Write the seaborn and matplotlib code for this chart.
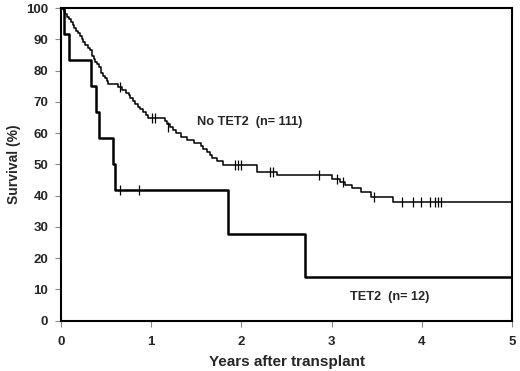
import matplotlib
matplotlib.use("Agg")
import matplotlib.pyplot as plt
import seaborn as sns
import pandas as pd

# No TET2 (n=111): step times (years) and survival (%) after each step
no_tet2_t = [0.00, 0.03, 0.05, 0.07, 0.09, 0.11, 0.13, 0.15, 0.17, 0.19, 0.21, 0.23,
             0.25, 0.27, 0.30, 0.32, 0.34, 0.35, 0.37, 0.38, 0.40, 0.42, 0.44, 0.45,
             0.47, 0.49, 0.51, 0.52, 0.63, 0.68, 0.72, 0.75, 0.77, 0.80, 0.82, 0.85,
             0.88, 0.91, 0.94, 0.97, 1.15, 1.18, 1.21, 1.24, 1.28, 1.33, 1.40, 1.47,
             1.55, 1.58, 1.62, 1.65, 1.68, 1.73, 1.80, 2.17, 2.40, 3.00, 3.09, 3.15,
             3.22, 3.33, 3.44, 3.68, 5.00]
no_tet2_s = [100, 99.1, 98.2, 97.3, 96.4, 95.5, 94.6, 93.7, 92.8, 91.9, 91.0, 90.1,
             89.2, 88.3, 87.4, 86.5, 85.6, 84.7, 83.8, 82.9, 82.0, 81.1, 80.2, 79.3,
             78.4, 77.5, 76.6, 75.7, 74.8, 73.9, 73.0, 72.1, 71.2, 70.3, 69.4, 68.5,
             67.6, 66.7, 65.8, 64.9, 63.9, 62.9, 61.9, 60.9, 59.9, 58.9, 57.9, 56.9,
             55.9, 55.0, 54.0, 53.0, 52.0, 51.0, 49.8, 47.6, 46.5, 45.4, 44.3, 43.4,
             42.4, 41.0, 39.7, 37.8, 37.8]
no_tet2_cens_t = [0.66, 1.01, 1.04, 1.19, 1.93, 1.96, 2.00, 2.32, 2.35, 2.86, 3.06,
                  3.13, 3.47, 3.78, 3.90, 3.99, 4.09, 4.14, 4.18, 4.21]
no_tet2_cens_s = [74.8, 64.9, 64.9, 61.9, 49.8, 49.8, 49.8, 47.6, 47.6, 46.5, 45.4,
                  44.3, 39.7, 37.8, 37.8, 37.8, 37.8, 37.8, 37.8, 37.8]

# TET2 (n=12)
tet2_t = [0.00, 0.04, 0.09, 0.33, 0.385, 0.42, 0.58, 0.60, 1.85, 2.70, 5.00]
tet2_s = [100, 91.7, 83.3, 75.0, 66.7, 58.3, 50.0, 41.7, 27.8, 13.9, 13.9]
tet2_cens_t = [0.65, 0.87]
tet2_cens_s = [41.7, 41.7]

sns.set_style("ticks")
plt.rcParams["font.family"] = ["Liberation Sans", "DejaVu Sans"]

fig = plt.figure(figsize=(5.2, 3.71), dpi=100)
ax = fig.add_axes([0.117, 0.136, 0.868, 0.842])

df = pd.concat([
    pd.DataFrame({"t": no_tet2_t, "s": no_tet2_s, "grp": "No TET2"}),
    pd.DataFrame({"t": tet2_t, "s": tet2_s, "grp": "TET2"}),
])
sns.lineplot(data=df[df.grp == "No TET2"], x="t", y="s", estimator=None, sort=False,
             drawstyle="steps-post", color="black", linewidth=1.1, ax=ax)
sns.lineplot(data=df[df.grp == "TET2"], x="t", y="s", estimator=None, sort=False,
             drawstyle="steps-post", color="black", linewidth=1.8, ax=ax)

sns.scatterplot(x=no_tet2_cens_t, y=no_tet2_cens_s, marker="|", s=45, linewidth=0.9,
                color="black", ax=ax, zorder=3)
sns.scatterplot(x=tet2_cens_t, y=tet2_cens_s, marker="|", s=45, linewidth=0.9,
                color="black", ax=ax, zorder=3)

ax.text(1.51, 63.4, "No TET2  (n= 111)", fontsize=9.2, fontweight="bold", va="center")
ax.text(3.2, 7.5, "TET2  (n= 12)", fontsize=9.2, fontweight="bold", va="center")

ax.set_xlim(0, 5)
ax.set_ylim(0, 100)
ax.set_xticks(range(0, 6))
ax.set_yticks(range(0, 101, 10))
ax.set_xlabel("Years after transplant", fontsize=11, fontweight="bold", labelpad=5)
ax.set_ylabel("Survival (%)", fontsize=10, fontweight="bold")
ax.tick_params(labelsize=9.5, length=4, width=0.8, color="#888888")
ax.tick_params(axis="x", pad=7)
ax.tick_params(axis="y", pad=5)
for lbl in ax.get_xticklabels() + ax.get_yticklabels():
    lbl.set_fontweight("bold")
for sp in ax.spines.values():
    sp.set_visible(True)
    sp.set_linewidth(1.5)
    sp.set_color("black")
if ax.get_legend():
    ax.get_legend().remove()

fig.savefig("out.png", dpi=100)
